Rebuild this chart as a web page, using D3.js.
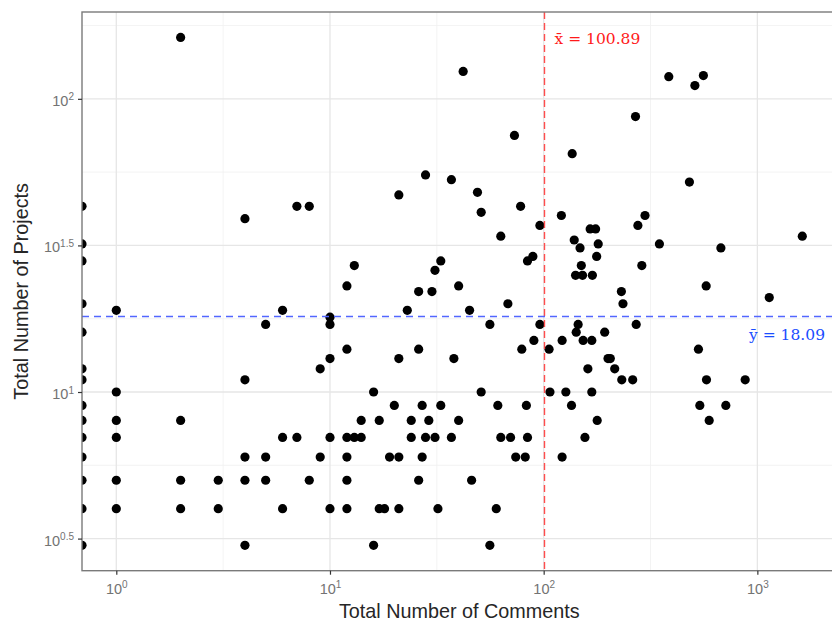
<!DOCTYPE html>
<html>
<head>
<meta charset="utf-8">
<script src="https://cdn.jsdelivr.net/npm/d3@7"></script>
<style>
  body { margin: 0; background: #fff; }
  svg { display: block; }
</style>
</head>
<body>
<div id="scatter"></div>
<script>
// number of comments per contributor (0 = no comments, drawn on the left edge)
var comments = [
  0, 0, 0, 0, 0, 0, 0, 0, 0, 0, 0, 0, 0, 0,
  1, 1, 1, 1, 1, 1,
  2, 2, 2, 2, 3, 3, 4, 4, 4, 4, 4, 5, 5, 5, 6, 6, 6, 7, 7, 8, 8, 9, 9,
  10, 10, 10, 10, 10, 12, 12, 12, 12, 12, 12, 13, 13, 14, 14, 16, 16, 17, 17, 18, 19, 20,
  21, 21, 21, 21, 23, 24, 24, 26, 26, 26, 27, 27, 28, 28, 29, 30, 31, 31, 32, 33, 33,
  37, 37, 38, 40, 40, 42, 45, 46, 49, 51, 51, 56, 56, 60, 61, 63, 63, 68, 70, 73, 74,
  78, 79, 82, 83, 84, 84, 89, 90, 96, 96,
  106, 107, 121, 122, 122, 127, 135, 136, 139, 141, 142, 145, 148, 150, 152, 153, 156, 161, 165,
  168, 168, 169, 175, 177, 178, 180, 193, 200, 205, 215, 231, 232, 235, 261, 269, 271, 276, 288, 298, 348, 385,
  481, 510, 530, 538, 559, 576, 578, 595, 675, 712, 877, 1137, 1623
];
// number of projects, same order
var projects = [
  43, 32, 28, 20, 16, 12, 11, 9, 8, 7, 6, 5, 4, 3,
  19, 10, 8, 7, 5, 4,
  162, 8, 5, 4, 5, 4, 39, 11, 6, 5, 3, 17, 6, 5, 19, 7, 4, 43, 7, 43, 5, 12, 6,
  18, 17, 13, 7, 4, 23, 14, 7, 6, 5, 4, 27, 7, 8, 7, 10, 3, 8, 4, 4, 6, 9,
  47, 13, 6, 4, 19, 8, 7, 22, 14, 5, 9, 6, 55, 7, 8, 22, 26, 7, 4, 28, 9,
  53, 7, 13, 23, 8, 124, 19, 5, 48, 41, 10, 17, 3, 4, 9, 34, 7, 20, 7, 75, 6,
  43, 14, 6, 9, 28, 7, 29, 15, 37, 17,
  14, 10, 40, 15, 6, 10, 9, 65, 33, 25, 16, 17, 31, 27, 25, 15, 7, 12, 36,
  15, 10, 25, 36, 29, 8, 32, 16, 13, 13, 12, 22, 11, 20, 11, 87, 17, 37, 27, 40, 32, 119,
  52, 111, 14, 9, 120, 23, 11, 8, 31, 9, 11, 21, 34
];

var xMean = 100.89, yMean = 18.09;

// tick exponents (log10)
var xMajor = [0, 1, 2, 3], xMinor = [0.5, 1.5, 2.5];
var yMajor = [0.5, 1, 1.5, 2], yMinor = [0.75, 1.25, 1.75, 2.25];

var margin = { top: 12, left: 82 },
    width = 754.6,
    height = 558.7;

var svg = d3.select("#scatter")
    .append("svg")
    .attr("width", 832)
    .attr("height", 622)
    .style("font-family", "'Liberation Sans', Arial, sans-serif");

var g = svg.append("g")
    .attr("transform", "translate(" + margin.left + "," + margin.top + ")");

// log domains with 5% expansion like ggplot
var lx = d3.extent(comments.filter(function (c) { return c > 0; }), function (c) { return Math.log10(c); });
var ly = d3.extent(projects, function (p) { return Math.log10(p); });
var px = (lx[1] - lx[0]) * 0.05, py = (ly[1] - ly[0]) * 0.05;

var x = d3.scaleLog()
    .domain([Math.pow(10, lx[0] - px), Math.pow(10, lx[1] + px)])
    .range([0, width]);
var y = d3.scaleLog()
    .domain([Math.pow(10, ly[0] - py), Math.pow(10, ly[1] + py)])
    .range([height, 0]);

function xpos(c) { return c > 0 ? x(c) : x.range()[0]; }

g.append("clipPath").attr("id", "panel")
    .append("rect").attr("width", width).attr("height", height);

// grid
g.selectAll(".xminor").data(xMinor).enter().append("line")
    .attr("x1", function (e) { return x(Math.pow(10, e)); })
    .attr("x2", function (e) { return x(Math.pow(10, e)); })
    .attr("y1", 0).attr("y2", height)
    .attr("stroke", "#f0f0f0").attr("stroke-width", 0.8);
g.selectAll(".yminor").data(yMinor).enter().append("line")
    .attr("y1", function (e) { return y(Math.pow(10, e)); })
    .attr("y2", function (e) { return y(Math.pow(10, e)); })
    .attr("x1", 0).attr("x2", width)
    .attr("stroke", "#f0f0f0").attr("stroke-width", 0.8);
g.selectAll(".xmajor").data(xMajor).enter().append("line")
    .attr("x1", function (e) { return x(Math.pow(10, e)); })
    .attr("x2", function (e) { return x(Math.pow(10, e)); })
    .attr("y1", 0).attr("y2", height)
    .attr("stroke", "#e6e6e6").attr("stroke-width", 1.3);
g.selectAll(".ymajor").data(yMajor).enter().append("line")
    .attr("y1", function (e) { return y(Math.pow(10, e)); })
    .attr("y2", function (e) { return y(Math.pow(10, e)); })
    .attr("x1", 0).attr("x2", width)
    .attr("stroke", "#e6e6e6").attr("stroke-width", 1.3);

// points
g.append("g").attr("clip-path", "url(#panel)")
    .selectAll("circle")
    .data(comments)
    .enter()
    .append("circle")
    .attr("cx", function (c) { return xpos(c); })
    .attr("cy", function (c, i) { return y(projects[i]); })
    .attr("r", 4.6)
    .attr("fill", "black");

// mean lines
g.append("line")
    .attr("x1", x(xMean)).attr("x2", x(xMean))
    .attr("y1", 0).attr("y2", height)
    .attr("stroke", "#ff4d4d").attr("stroke-width", 1.4)
    .attr("stroke-dasharray", "7,4");
g.append("line")
    .attr("x1", 0).attr("x2", width)
    .attr("y1", y(yMean)).attr("y2", y(yMean))
    .attr("stroke", "#5266ff").attr("stroke-width", 1.4)
    .attr("stroke-dasharray", "7,5");

g.append("text")
    .attr("x", x(xMean) + 10).attr("y", 31.5)
    .attr("fill", "#ff1a1a")
    .style("font-family", "'DejaVu Serif', serif")
    .style("font-size", "15.5px")
    .text("x\u0304 = " + xMean);
g.append("text")
    .attr("x", 743).attr("y", y(yMean) + 23)
    .attr("text-anchor", "end")
    .attr("fill", "#1a4dff")
    .style("font-family", "'DejaVu Serif', serif")
    .style("font-size", "15.5px")
    .text("y\u0304 = " + yMean);

// panel border
g.append("rect")
    .attr("width", width).attr("height", height)
    .attr("fill", "none")
    .attr("stroke", "#7a7a7a").attr("stroke-width", 1.4);

// axes
function powLabel(sel, e) {
    sel.text(null);
    sel.append("tspan").text("10");
    sel.append("tspan").attr("dy", "-0.55em").style("font-size", "10px").text(e);
}

var xAxis = g.append("g")
    .attr("transform", "translate(0," + height + ")")
    .call(d3.axisBottom(x)
        .tickValues(xMajor.map(function (e) { return Math.pow(10, e); }))
        .tickSize(4).tickPadding(4));
xAxis.selectAll("text").each(function (d) { powLabel(d3.select(this), Math.log10(d)); })
    .attr("dy", "1.05em");

var yAxis = g.append("g")
    .call(d3.axisLeft(y)
        .tickValues(yMajor.map(function (e) { return Math.pow(10, e); }))
        .tickSize(4).tickPadding(4));
yAxis.selectAll("text").each(function (d) { powLabel(d3.select(this), +Math.log10(d).toFixed(1)); })
    .attr("dy", "0.45em");

[xAxis, yAxis].forEach(function (a) {
    a.select(".domain").remove();
    a.selectAll(".tick line").attr("stroke", "#333").attr("stroke-width", 1.2);
    a.selectAll(".tick text").attr("fill", "#737373")
        .style("font-family", "'Liberation Sans', Arial, sans-serif")
        .style("font-size", "14.5px");
});

// axis titles
svg.append("text")
    .attr("x", margin.left + width / 2).attr("y", 618)
    .attr("text-anchor", "middle")
    .attr("fill", "#262626")
    .style("font-size", "19.8px")
    .text("Total Number of Comments");
svg.append("text")
    .attr("transform", "translate(28," + (margin.top + height / 2) + ") rotate(-90)")
    .attr("text-anchor", "middle")
    .attr("fill", "#262626")
    .style("font-size", "19.8px")
    .text("Total Number of Projects");
</script>
</body>
</html>
